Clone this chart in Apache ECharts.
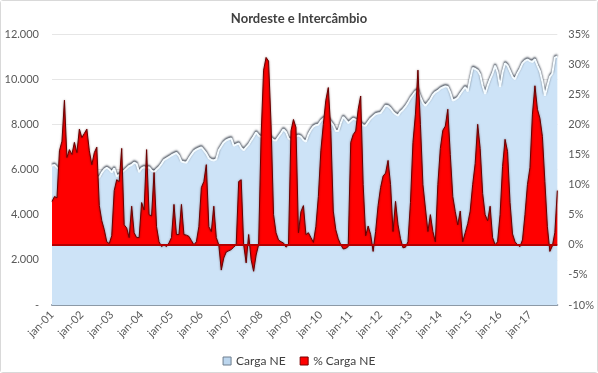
<!DOCTYPE html>
<html>
<head>
<meta charset="utf-8">
<script src="https://cdn.jsdelivr.net/npm/echarts@6/dist/echarts.min.js"></script>
<style>
  html, body { margin: 0; padding: 0; background: #ffffff; }
  #wrap { position: absolute; left: 0; top: 0; width: 596px; height: 371px; border: 1px solid #d9d9d9; border-radius: 3px; }
  #chart { width: 596px; height: 371px; }
</style>
</head>
<body>
<div id="wrap"><div id="chart"></div></div>
<script>
// Month labels (Portuguese)
const monthNames = ['jan','fev','mar','abr','mai','jun','jul','ago','set','out','nov','dez'];
const years = ['01','02','03','04','05','06','07','08','09','10','11','12','13','14','15','16','17'];

// Carga NE (left axis), one array per year
const carga01 = [6170, 6200, 6080, 6000, 5900, 5800, 5300, 5100, 5200, 5300, 5400, 5450];
const carga02 = [5500, 5500, 5550, 5600, 5600, 5650, 5650, 5650, 5850, 6000, 6080, 6000];
const carga03 = [5870, 6050, 5700, 5750, 5850, 5950, 6050, 6150, 6200, 6300, 6250, 5880];
const carga04 = [6050, 6100, 6050, 6100, 5950, 5880, 6000, 6100, 6250, 6420, 6480, 6550];
const carga05 = [6620, 6680, 6730, 6600, 6350, 6320, 6300, 6480, 6650, 6800, 6880, 6930];
const carga06 = [6980, 6850, 6700, 6500, 6420, 6400, 6450, 6850, 7030, 7200, 7290, 7340];
const carga07 = [7380, 7050, 7100, 7150, 6950, 6850, 6980, 7100, 7280, 7450, 7640, 7500];
const carga08 = [7420, 7450, 7500, 7450, 7400, 7300, 7280, 7450, 7600, 7780, 7650, 7380];
const carga09 = [7300, 7400, 7450, 7500, 7450, 7300, 7230, 7550, 7750, 7900, 7960, 7980];
const carga10 = [8150, 8250, 8300, 8250, 8100, 7950, 7700, 7700, 8050, 8330, 8200, 8050];
const carga11 = [8150, 8250, 8200, 8150, 8050, 7950, 7940, 8100, 8250, 8350, 8450, 8480];
const carga12 = [8500, 8650, 8820, 8800, 8700, 8550, 8450, 8380, 8550, 8650, 8780, 8950];
const carga13 = [9150, 9300, 9450, 9500, 9200, 8950, 8820, 8950, 9100, 9300, 9420, 9480];
const carga14 = [9580, 9630, 9680, 9650, 9400, 9050, 9100, 9180, 9350, 9500, 9650, 9450];
const carga15 = [10000, 10500, 10450, 10380, 10200, 9700, 9350, 9700, 10000, 10250, 10600, 10300];
const carga16 = [9650, 10300, 10700, 10600, 10350, 10100, 10000, 10250, 10450, 10700, 10810, 10870];
const carga17 = [10800, 10760, 10880, 10600, 10350, 9900, 9260, 9700, 10100, 10250, 10950, 11000];

// % Carga NE (right axis), one array per year
const pct01 = [7.2, 8.0, 7.8, 15.6, 17.2, 24.0, 14.5, 15.8, 15.0, 17.0, 15.3, 19.2];
const pct02 = [17.8, 18.5, 19.2, 15.6, 13.3, 15.3, 16.2, 6.5, 4.0, 2.5, 0.5, 0.2];
const pct03 = [1.5, 9.0, 10.8, 10.5, 16.0, 3.3, 2.8, 1.2, 6.4, 2.0, 1.2, 1.2];
const pct04 = [7.0, 5.8, 15.8, 5.0, 4.8, 12.0, 3.0, 0.5, -0.3, 0.0, -0.3, 0.3];
const pct05 = [1.2, 6.7, 1.7, 1.7, 6.7, 1.7, 1.6, 1.4, 0.7, 0.0, 0.5, 3.0];
const pct06 = [9.5, 10.5, 13.3, 3.0, 2.2, 6.4, 1.2, 0.0, -4.2, -2.2, -1.2, -1.0];
const pct07 = [-0.8, -0.4, 0.0, 10.5, 10.8, 0.0, -3.0, 1.7, -2.5, -4.4, -1.7, 0.0];
const pct08 = [18.0, 29.0, 31.1, 30.5, 20.0, 5.0, 2.0, 0.8, 0.5, 0.3, -0.4, 0.0];
const pct09 = [18.9, 20.8, 19.5, 2.0, 5.5, 6.5, 1.7, 2.0, 1.2, 0.4, 3.0, 8.0];
const pct10 = [15.6, 20.0, 24.0, 26.1, 19.0, 5.6, 2.5, 1.0, 0.0, -0.7, -0.6, -0.3];
const pct11 = [17.0, 18.3, 18.9, 22.5, 24.7, 10.0, 1.5, 3.1, 1.7, -1.1, 2.2, 6.5];
const pct12 = [9.5, 11.4, 11.9, 14.0, 10.0, 2.2, 7.2, 3.3, 1.0, -0.5, -0.4, 0.5];
const pct13 = [7.0, 17.0, 21.7, 29.0, 20.0, 10.0, 6.1, 2.2, 5.0, 2.2, 0.5, 10.0];
const pct14 = [16.0, 19.0, 19.7, 22.5, 15.0, 8.0, 5.5, 3.3, 5.6, 0.5, 2.0, 3.5];
const pct15 = [5.6, 10.0, 13.5, 20.0, 16.0, 8.5, 5.0, 4.0, 6.4, 1.2, 0.0, 0.5];
const pct16 = [5.0, 13.0, 17.5, 15.5, 7.0, 1.8, 0.5, 0.0, -0.3, 0.8, 5.0, 10.0];
const pct17 = [12.8, 21.7, 26.4, 22.5, 21.0, 18.0, 10.5, 3.0, -1.1, -0.2, 2.0, 9.0];

const cargaNE = [].concat(carga01, carga02, carga03, carga04, carga05, carga06, carga07, carga08, carga09,
  carga10, carga11, carga12, carga13, carga14, carga15, carga16, carga17);
const pctCargaNE = [].concat(pct01, pct02, pct03, pct04, pct05, pct06, pct07, pct08, pct09,
  pct10, pct11, pct12, pct13, pct14, pct15, pct16, pct17);

const categories = [];
years.forEach(y => monthNames.forEach(m => categories.push(m + '-' + y)));

const FONT = 'Lato, "Open Sans", sans-serif';
const chart = echarts.init(document.getElementById('chart'), null, { renderer: 'canvas' });

chart.setOption({
  animation: false,
  backgroundColor: '#ffffff',
  textStyle: { fontFamily: FONT },
  title: {
    text: 'Nordeste e Intercâmbio',
    left: 'center',
    top: 6,
    textStyle: { fontFamily: FONT, fontSize: 13, fontWeight: 'bold', color: '#404040' }
  },
  legend: {
    top: 349,
    left: 'center',
    itemWidth: 8,
    itemHeight: 8,
    itemGap: 14,
    textStyle: { fontFamily: FONT, fontSize: 12, color: '#404040' },
    data: [
      { name: 'Carga NE', icon: 'rect', itemStyle: { color: '#bcd6ee', borderColor: '#6f7f8f', borderWidth: 1 } },
      { name: '% Carga NE', icon: 'rect', itemStyle: { color: '#ff0000', borderColor: '#7a0000', borderWidth: 1 } }
    ]
  },
  grid: { left: 51, right: 38, top: 33, bottom: 67, containLabel: false },
  xAxis: {
    type: 'category',
    data: categories,
    boundaryGap: false,
    axisLine: { show: true, lineStyle: { color: '#8c99a6', width: 2 } },
    axisTick: { show: false },
    axisLabel: {
      interval: 11,
      rotate: 45,
      margin: 8,
      fontSize: 11,
      color: '#595959',
      fontFamily: FONT
    },
    splitLine: { show: false }
  },
  yAxis: [
    {
      type: 'value',
      min: 0,
      max: 12000,
      interval: 2000,
      position: 'left',
      axisLine: { show: false },
      axisTick: { show: false },
      axisLabel: {
        margin: 13,
        fontSize: 11,
        color: '#595959',
        fontFamily: FONT,
        formatter: function (v) {
          if (v === 0) return '-';
          return (v / 1000).toFixed(3).replace('.', '.');
        }
      },
      splitLine: { show: true, lineStyle: { color: '#e6e6e6', width: 1 } }
    },
    {
      type: 'value',
      min: -10,
      max: 35,
      interval: 5,
      position: 'right',
      axisLine: { show: false },
      axisTick: { show: false },
      axisLabel: {
        margin: 11,
        fontSize: 11,
        color: '#595959',
        fontFamily: FONT,
        formatter: '{value}%'
      },
      splitLine: { show: false }
    }
  ],
  series: [
    {
      name: 'Carga NE',
      type: 'line',
      yAxisIndex: 0,
      data: cargaNE,
      symbol: 'none',
      showSymbol: false,
      color: '#bcd6ee',
      lineStyle: {
        color: '#f4fbff',
        width: 2,
        shadowColor: 'rgba(30,40,55,0.85)',
        shadowBlur: 2,
        shadowOffsetY: -1.5
      },
      areaStyle: { color: '#cde3f7', opacity: 1 },
      z: 2
    },
    {
      name: '% Carga NE',
      type: 'line',
      yAxisIndex: 1,
      data: pctCargaNE,
      symbol: 'none',
      showSymbol: false,
      color: '#ff0000',
      lineStyle: {
        color: '#6a0000',
        width: 1,
        shadowColor: 'rgba(60,0,0,0.6)',
        shadowBlur: 2
      },
      areaStyle: { color: '#ff0000', opacity: 1 },
      markLine: {
        silent: true,
        symbol: 'none',
        label: { show: false },
        lineStyle: { color: '#b40000', width: 2, type: 'solid' },
        data: [{ yAxis: 0 }]
      },
      z: 3
    }
  ]
});
</script>
</body>
</html>
